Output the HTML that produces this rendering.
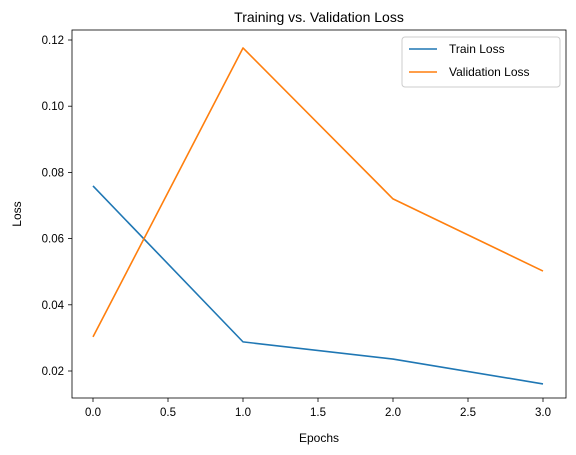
<!DOCTYPE html>
<html><head><meta charset="utf-8">
<style>
html,body{margin:0;padding:0;background:#fff;}
svg{display:block;font-family:"Liberation Sans","DejaVu Sans",sans-serif;}
</style></head>
<body>
<svg id="chart" width="576" height="455" viewBox="0 0 576 455" xmlns="http://www.w3.org/2000/svg">
<rect x="0" y="0" width="576" height="455" fill="#fff"/>
<text x="319" y="22" font-size="14" text-anchor="middle" fill="#000">Training vs. Validation Loss</text>
<g id="grid"></g>
<g id="series"></g>
<rect x="72" y="30" width="494" height="368" fill="none" stroke="#000" stroke-width="0.8"/>
<text x="319" y="442" font-size="12" text-anchor="middle">Epochs</text>
<text x="21" y="214" font-size="12" text-anchor="middle" transform="rotate(-90 21 214)">Loss</text>
<g>
<rect x="402" y="37" width="158" height="50" rx="3" fill="#fff" stroke="#ccc" stroke-width="1"/>
<line x1="409" y1="49" x2="437" y2="49" stroke="#1f77b4" stroke-width="1.6"/>
<text x="449" y="53" font-size="12">Train Loss</text>
<line x1="409" y1="72" x2="437" y2="72" stroke="#ff7f0e" stroke-width="1.6"/>
<text x="449" y="76" font-size="12">Validation Loss</text>
</g>
</svg>
<script>
const epochs = [0, 1, 2, 3];
const trainLoss = [0.0759, 0.0288, 0.0236, 0.0161];
const valLoss = [0.0303, 0.1176, 0.0720, 0.0502];
const xTicks = [0, 0.5, 1, 1.5, 2, 2.5, 3];
const xTickLabels = ["0.0", "0.5", "1.0", "1.5", "2.0", "2.5", "3.0"];
const yTicks = [0.02, 0.04, 0.06, 0.08, 0.10, 0.12];
const yTickLabels = ["0.02", "0.04", "0.06", "0.08", "0.10", "0.12"];

const NS = "http://www.w3.org/2000/svg";
function xs(v){ return 93 + v * 150; }
function ys(v){ return 371 - (v - 0.02) * 3310; }
const grid = document.getElementById('grid');
const series = document.getElementById('series');

xTicks.forEach((t, i) => {
  const l = document.createElementNS(NS, 'line');
  l.setAttribute('x1', xs(t)); l.setAttribute('x2', xs(t));
  l.setAttribute('y1', 398); l.setAttribute('y2', 402);
  l.setAttribute('stroke', '#000'); l.setAttribute('stroke-width', '0.8');
  
  
  grid.appendChild(l);
  const tx = document.createElementNS(NS, 'text');
  tx.setAttribute('x', xs(t)); tx.setAttribute('y', 416);
  tx.setAttribute('font-size', '11.5'); tx.setAttribute('text-anchor', 'middle');
  tx.textContent = xTickLabels[i];
  
  
  grid.appendChild(tx);
});
yTicks.forEach((t, i) => {
  const l = document.createElementNS(NS, 'line');
  l.setAttribute('x1', 68); l.setAttribute('x2', 72);
  l.setAttribute('y1', ys(t)); l.setAttribute('y2', ys(t));
  l.setAttribute('stroke', '#000'); l.setAttribute('stroke-width', '0.8');
  
  
  grid.appendChild(l);
  const tx = document.createElementNS(NS, 'text');
  tx.setAttribute('x', 64); tx.setAttribute('y', ys(t) + 4);
  tx.setAttribute('font-size', '11.5'); tx.setAttribute('text-anchor', 'end');
  tx.textContent = yTickLabels[i];
  
  
  grid.appendChild(tx);
});
function drawLine(vals, color, name){
  const p = document.createElementNS(NS, 'polyline');
  p.setAttribute('points', epochs.map((e, i) => xs(e) + ',' + ys(vals[i])).join(' '));
  p.setAttribute('fill', 'none'); p.setAttribute('stroke', color);
  p.setAttribute('stroke-width', '1.6'); p.setAttribute('stroke-linejoin', 'round');
  
  
  series.appendChild(p);
}
drawLine(trainLoss, '#1f77b4', 'train-loss-line');
drawLine(valLoss, '#ff7f0e', 'validation-loss-line');
</script>
</body></html>
